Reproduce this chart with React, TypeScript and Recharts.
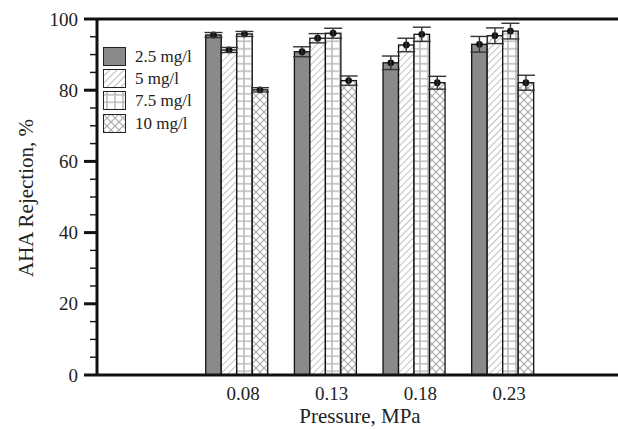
import { BarChart, Bar, XAxis, YAxis, ErrorBar, ReferenceLine } from 'recharts';

// Pressure (MPa) and AHA rejection (%) for four feed concentrations
const pressures = [0.08, 0.13, 0.18, 0.23];
const rej25 = [95.5, 90.8, 87.7, 92.9];
const err25 = [0.7, 1.4, 1.9, 2.2];
const rej5 = [91.3, 94.6, 92.7, 95.3];
const err5 = [0.7, 1.3, 1.9, 2.2];
const rej75 = [95.8, 96.0, 95.7, 96.6];
const err75 = [0.7, 1.4, 2.0, 2.2];
const rej10 = [80.1, 82.7, 82.1, 82.1];
const err10 = [0.6, 1.3, 1.8, 2.1];
const yTicks = [0, 5, 10, 15, 20, 25, 30, 35, 40, 45, 50, 55, 60, 65, 70, 75, 80, 85, 90, 95, 100];

const FONT = '"Liberation Serif", "Times New Roman", serif';

const series = [
  { key: 'c25', err: 'e25', name: '2.5 mg/l', fill: '#8a8a8a' },
  { key: 'c5', err: 'e5', name: '5 mg/l', fill: 'url(#hatch)' },
  { key: 'c75', err: 'e75', name: '7.5 mg/l', fill: 'url(#grid)' },
  { key: 'c10', err: 'e10', name: '10 mg/l', fill: 'url(#cross)' },
];

const data = pressures.map((p, i) => ({
  p,
  c25: rej25[i], e25: err25[i],
  c5: rej5[i], e5: err5[i],
  c75: rej75[i], e75: err75[i],
  c10: rej10[i], e10: err10[i],
}));

const BarWithDot = (props: any) => {
  const { x, y, width, height, fill } = props;
  return (
    <g>
      <rect x={x} y={y} width={width} height={height} fill={fill} stroke="#111" strokeWidth={1.3} />
      <circle cx={x + width / 2} cy={y} r={3.4} fill="#111" />
    </g>
  );
};

const YTick = (props: any) => {
  const { x, y, payload } = props;
  const major = payload.value % 20 === 0;
  return (
    <g>
      <line x1={x - (major ? 13 : 7)} x2={x} y1={y} y2={y} stroke="#111" strokeWidth={major ? 3 : 1.4} />
      {major && (
        <text x={x - 19} y={y} dy="0.35em" textAnchor="end" fill="#222" fontSize={19} fontFamily={FONT}>
          {payload.value}
        </text>
      )}
    </g>
  );
};

function Patterns() {
  return (
    <svg width={0} height={0} style={{ position: 'absolute' }}>
      <defs>
        <pattern id="hatch" patternUnits="userSpaceOnUse" width={5} height={5} patternTransform="rotate(45)">
          <rect width={5} height={5} fill="#fff" />
          <line x1={0} y1={0} x2={0} y2={5} stroke="#b0b0b0" strokeWidth={1.6} />
        </pattern>
        <pattern id="grid" patternUnits="userSpaceOnUse" width={8} height={7.5}>
          <rect width={8} height={7.5} fill="#fff" />
          <path d="M4 0 V7.5 M0 3.75 H8" stroke="#b8b8b8" strokeWidth={1.5} />
        </pattern>
        <pattern id="cross" patternUnits="userSpaceOnUse" width={8} height={8}>
          <rect width={8} height={8} fill="#fff" />
          <path d="M0 0 L8 8 M8 0 L0 8" stroke="#a8a8a8" strokeWidth={1.1} />
        </pattern>
      </defs>
    </svg>
  );
}

export default function App() {
  return (
    <div style={{ position: 'fixed', left: 0, top: 0, width: 618, height: 429, overflow: 'hidden', background: '#fff', fontFamily: FONT }}>
      <Patterns />
      <BarChart width={650} height={429} data={data} margin={{ top: 19, right: 0, left: 37, bottom: 14 }} barGap={0}>
        <XAxis
          dataKey="p"
          type="number"
          domain={[0.001, 0.3129]}
          allowDataOverflow
          ticks={pressures}
          interval={0}
          tickFormatter={(v: number) => v.toFixed(2)}
          tickLine={false}
          tickSize={0}
          tickMargin={12}
          height={40}
          axisLine={{ stroke: '#111', strokeWidth: 3 }}
          tick={{ fill: '#222', fontSize: 19, fontFamily: FONT, dx: 6 }}
        />
        <YAxis
          type="number"
          domain={[0, 100]}
          ticks={yTicks}
          interval={0}
          width={60}
          tickLine={false}
          tickSize={0}
          tickMargin={0}
          axisLine={{ stroke: '#111', strokeWidth: 3 }}
          tick={<YTick />}
        />
        <ReferenceLine y={100} stroke="#111" strokeWidth={3} />
        {series.map((s) => (
          <Bar key={s.key} dataKey={s.key} name={s.name} fill={s.fill} barSize={15.5} shape={<BarWithDot />} isAnimationActive={false}>
            <ErrorBar dataKey={s.err} width={9} stroke="#333" strokeWidth={1.4} direction="y" />
          </Bar>
        ))}
      </BarChart>

      <div style={{ position: 'absolute', left: 103, top: 45 }}>
        {series.map((s) => (
          <div key={s.key} style={{ display: 'flex', alignItems: 'center', height: 22.3 }}>
            <svg width={23} height={19} style={{ display: 'block' }}>
              <rect x={0.5} y={0.5} width={22} height={18} fill={s.fill} stroke="#222" strokeWidth={1} />
            </svg>
            <span style={{ marginLeft: 9, fontSize: 17, color: '#222', lineHeight: 1 }}>{s.name}</span>
          </div>
        ))}
      </div>

      <div
        style={{
          position: 'absolute',
          left: 26,
          top: 197.5,
          transform: 'translate(-50%, -50%) rotate(-90deg)',
          whiteSpace: 'nowrap',
          fontSize: 21,
          lineHeight: 1,
          color: '#222',
        }}
      >
        AHA Rejection, %
      </div>
      <div
        style={{
          position: 'absolute',
          left: 360,
          top: 406,
          transform: 'translateX(-50%)',
          whiteSpace: 'nowrap',
          fontSize: 21,
          lineHeight: 1,
          color: '#222',
        }}
      >
        Pressure, MPa
      </div>
    </div>
  );
}
